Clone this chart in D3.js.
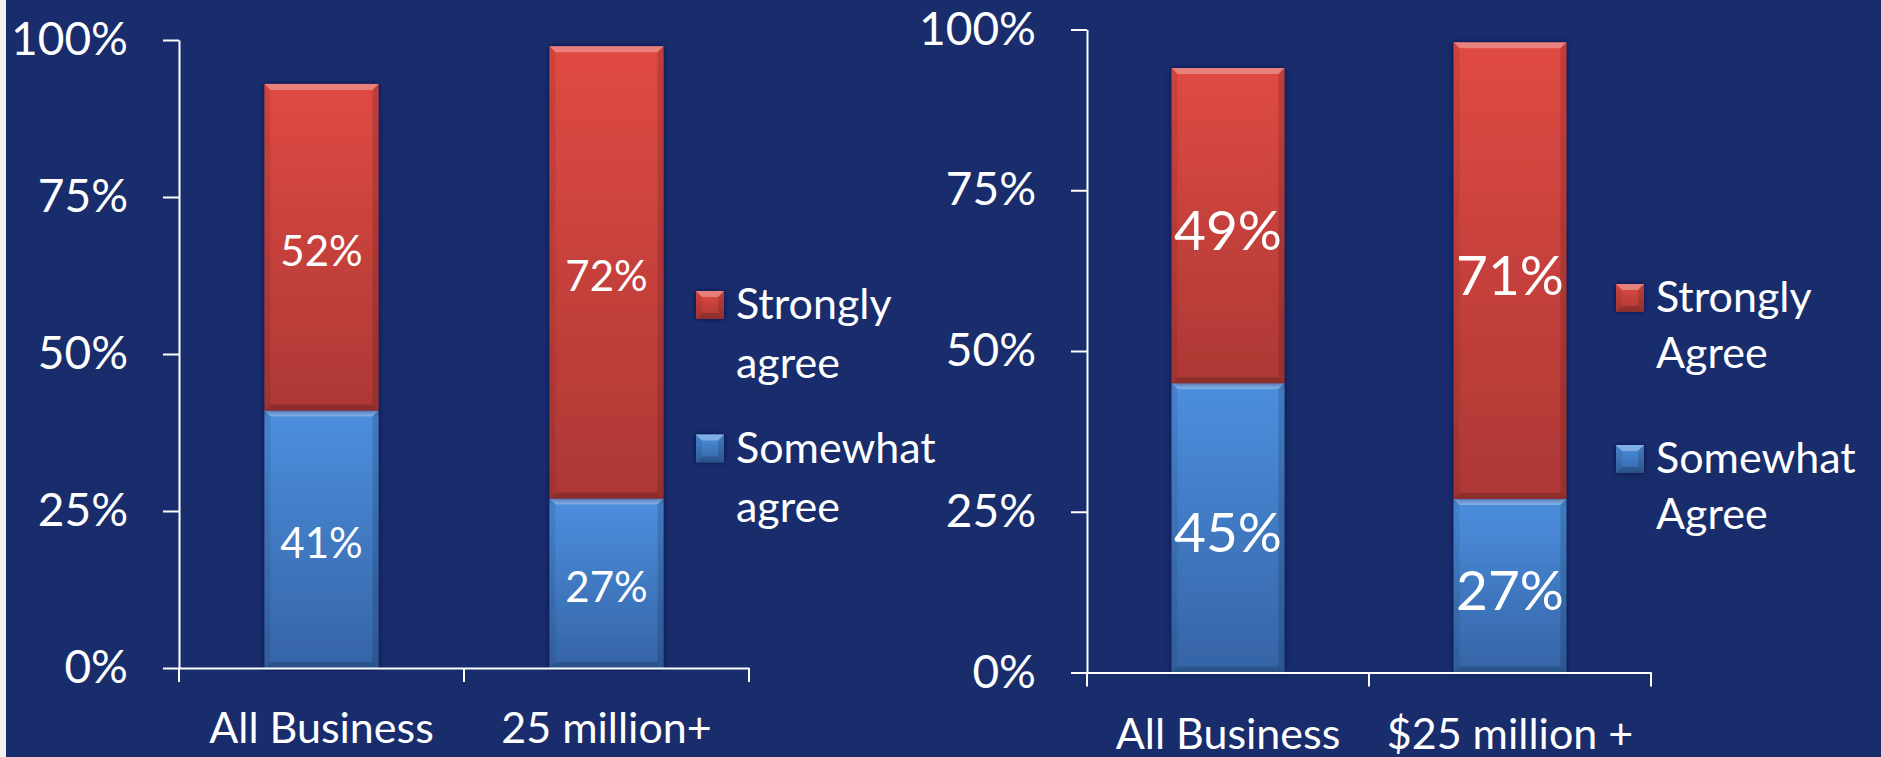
<!DOCTYPE html>
<html>
<head>
<meta charset="utf-8">
<script src="https://cdn.jsdelivr.net/npm/d3@7"></script>
<style>
  html, body { margin: 0; padding: 0; background: #192d6c; }
  svg { display: block; font-family: Lato, "Open Sans", sans-serif; }
  .axis path, .axis line { stroke: #ffffff; stroke-width: 2; }
  .axis text { fill: #ffffff; font-family: Lato, "Open Sans", sans-serif; }
</style>
</head>
<body>
<div class="container"></div>
<script>
const WIDTH = 1881;
const HEIGHT = 757;

// data
const yTicks = [0, 25, 50, 75, 100];
const seriesKeys = ["somewhat", "strongly"];

const categoriesLeft = ["All Business", "25 million+"];
const somewhatLeft = [41, 27];
const stronglyLeft = [52, 72];
const legendLeft = [["Strongly", "agree"], ["Somewhat", "agree"]];

const categoriesRight = ["All Business", "$25 million +"];
const somewhatRight = [45, 27];
const stronglyRight = [49, 71];
const legendRight = [["Strongly", "Agree"], ["Somewhat", "Agree"]];

var colors = {
    strongly: ["#df4a42", "#ad3835"],
    somewhat: ["#4c8fde", "#3564a6"]
};

var translate = function (x, y) {
    return "translate(" + x + "," + y + ")";
};

var svg = d3.select('.container').append('svg')
    .attr('width', WIDTH)
    .attr('height', HEIGHT);

svg.append('rect').attr('width', WIDTH).attr('height', HEIGHT).attr('fill', '#192d6c');
svg.append('rect').attr('width', 6).attr('height', HEIGHT).attr('fill', '#f2f2f2');

var defs = svg.append('defs');
Object.keys(colors).forEach(function (k) {
    var g = defs.append('linearGradient').attr('id', 'grad-' + k)
        .attr('x1', 0).attr('y1', 0).attr('x2', 0).attr('y2', 1);
    g.append('stop').attr('offset', '0%').attr('stop-color', colors[k][0]);
    g.append('stop').attr('offset', '100%').attr('stop-color', colors[k][1]);
});
defs.append('filter').attr('id', 'shadow')
    .attr('x', '-20%').attr('y', '-20%').attr('width', '140%').attr('height', '140%')
    .append('feDropShadow')
    .attr('dx', 0).attr('dy', 0).attr('stdDeviation', 3)
    .attr('flood-color', '#0a1440').attr('flood-opacity', 0.7);

var bevel = function (g, x, y, w, h, key) {
    var b = Math.min(6, h / 2);
    g.append('rect').attr('x', x).attr('y', y).attr('width', w).attr('height', h)
        .attr('fill', 'url(#grad-' + key + ')');
    var poly = function (pts, fill, op) {
        g.append('polygon')
            .attr('points', pts.map(function (p) { return p.join(','); }).join(' '))
            .attr('fill', fill).attr('fill-opacity', op);
    };
    poly([[x, y], [x + w, y], [x + w - b, y + b], [x + b, y + b]], '#ffffff', 0.3);
    poly([[x, y], [x + b, y + b], [x + b, y + h - b], [x, y + h]], '#000000', 0.08);
    poly([[x + w, y], [x + w - b, y + b], [x + w - b, y + h - b], [x + w, y + h]], '#000000', 0.14);
    poly([[x, y + h], [x + b, y + h - b], [x + w - b, y + h - b], [x + w, y + h]], '#000000', 0.18);
};

var drawChart = function (cfg) {
    var rows = cfg.categories.map(function (c, i) {
        return { cat: c, somewhat: cfg.somewhat[i], strongly: cfg.strongly[i] };
    });
    var stacked = d3.stack().keys(seriesKeys)(rows);

    var xScale = d3.scaleBand()
        .domain(cfg.categories)
        .range([cfg.x0, cfg.x1])
        .padding(0);
    var yScale = d3.scaleLinear()
        .domain([0, 100])
        .range([cfg.yBottom, cfg.yTop]);

    var barW = xScale.bandwidth() * 0.4;

    // bars
    var barsG = svg.append('g');
    stacked.forEach(function (layer) {
        layer.forEach(function (d) {
            var x = xScale(d.data.cat) + (xScale.bandwidth() - barW) / 2;
            var y = yScale(d[1]);
            var h = yScale(d[0]) - yScale(d[1]);
            var g = barsG.append('g').attr('filter', 'url(#shadow)');
            bevel(g, x, y, barW, h, layer.key);
            svg.append('text')
                .attr('x', x + barW / 2)
                .attr('y', (yScale(d[0]) + yScale(d[1])) / 2 + cfg.labelShift)
                .attr('text-anchor', 'middle')
                .attr('dominant-baseline', 'central')
                .attr('fill', '#ffffff')
                .style('font-size', cfg.labelSize + 'px')
                .text(d.data[layer.key] + '%');
        });
    });

    // y axis
    var yAxis = d3.axisLeft(yScale)
        .tickValues(yTicks)
        .tickSize(16)
        .tickSizeOuter(0)
        .tickPadding(35)
        .tickFormat(function (d) { return d + '%'; });
    var yg = svg.append('g')
        .attr('class', 'axis')
        .attr('transform', translate(cfg.x0, 0))
        .call(yAxis);
    yg.attr('font-family', null);
    yg.selectAll('text')
        .style('font-size', '46px');

    // x axis
    var xAxis = d3.axisBottom(xScale).tickSize(0).tickSizeOuter(0);
    var xg = svg.append('g')
        .attr('class', 'axis')
        .attr('transform', translate(0, cfg.yBottom))
        .call(xAxis);
    xg.attr('font-family', null);
    xg.selectAll('text')
        .attr('y', cfg.catY)
        .attr('dy', null)
        .style('font-size', '43px');
    var bounds = cfg.categories.map(function (c) { return xScale(c); }).concat([cfg.x1]);
    xg.selectAll('.bound').data(bounds).enter().append('line')
        .attr('x1', function (d) { return d; })
        .attr('x2', function (d) { return d; })
        .attr('y1', 0)
        .attr('y2', 14);

    // legend (top item = strongly)
    var legendKeys = ["strongly", "somewhat"];
    legendKeys.forEach(function (k, i) {
        var by = cfg.legendY[i];
        var g = svg.append('g').attr('filter', 'url(#shadow)');
        bevel(g, cfg.legendX, by - 28, 28, 28, k);
        var t = svg.append('text')
            .attr('x', cfg.legendX + 40)
            .attr('y', by)
            .attr('fill', '#ffffff')
            .style('font-size', '43px');
        cfg.legend[i].forEach(function (line, j) {
            t.append('tspan')
                .attr('x', cfg.legendX + 40)
                .attr('y', by + j * cfg.lineGap)
                .text(line);
        });
    });
};

drawChart({
    categories: categoriesLeft, somewhat: somewhatLeft, strongly: stronglyLeft, legend: legendLeft,
    x0: 179, x1: 749, yTop: 40, yBottom: 668,
    labelSize: 42, labelShift: 3, catY: 75,
    legendX: 696, legendY: [319, 462.5], lineGap: 59
});

drawChart({
    categories: categoriesRight, somewhat: somewhatRight, strongly: stronglyRight, legend: legendRight,
    x0: 1087, x1: 1651, yTop: 29.5, yBottom: 672.5,
    labelSize: 55, labelShift: 3, catY: 76.5,
    legendX: 1616, legendY: [312, 473], lineGap: 56
});
</script>
</body>
</html>
